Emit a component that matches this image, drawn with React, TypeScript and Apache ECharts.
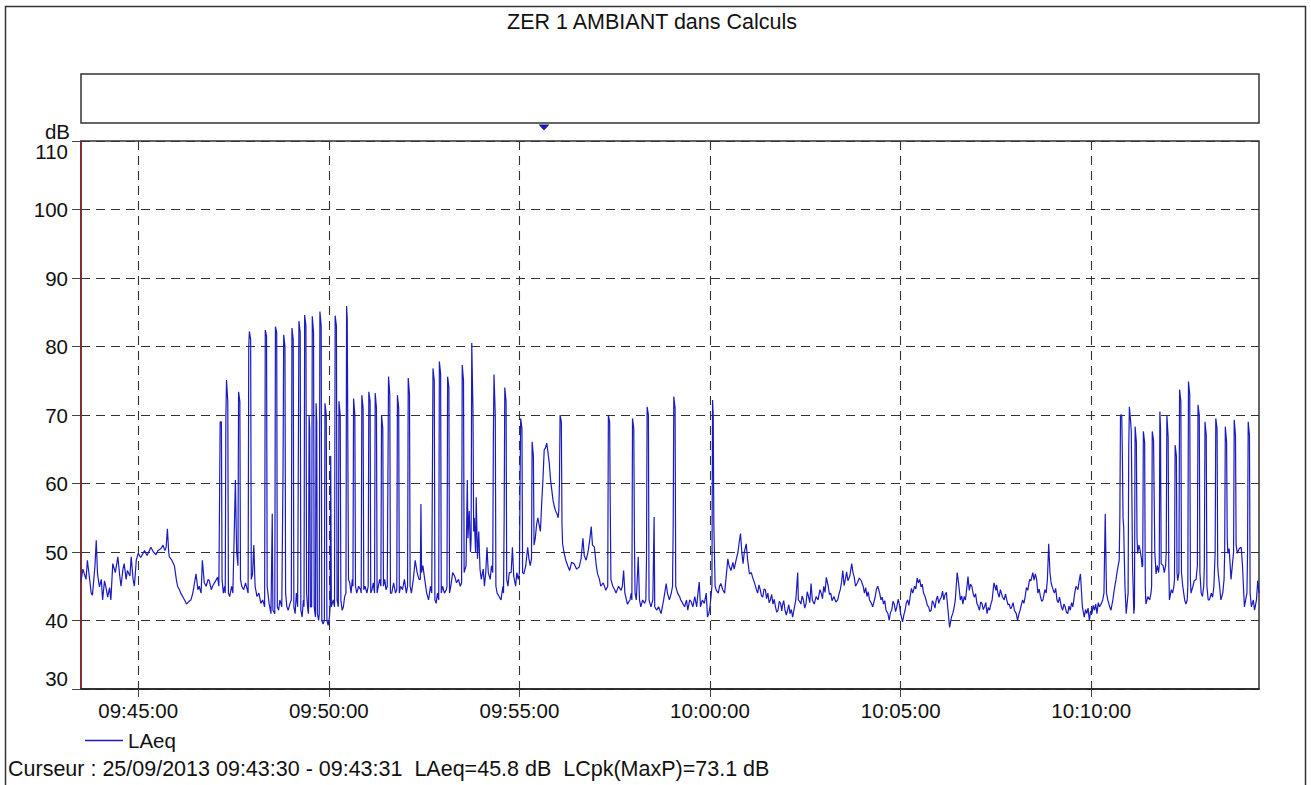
import React, { useEffect, useRef } from "react";
import * as echarts from "echarts";

// Time origin of the recording: 09:43:30 (seconds since midnight)
const START_SEC = 9 * 3600 + 43 * 60 + 30;
const END_OFFSET = 1854; // ~10:14:24
const tickOffsets = [90, 390, 690, 990, 1290, 1590]; // 09:45:00 ... 10:10:00
const yMin = 30;
const yMax = 110;
const yStep = 10;

const titleText = "ZER 1 AMBIANT dans Calculs";
const seriesName = "LAeq";
const cursorText =
  "Curseur : 25/09/2013 09:43:30 - 09:43:31  LAeq=45.8 dB  LCpk(MaxP)=73.1 dB";

// [seconds from 09:43:30, dB]
const laeqA = [
  [0, 45.8], [3, 47.5], [8, 46], [10, 48.8], [13, 46.5], [16, 44], [18, 43.7], [22, 48], [24, 51.7], [26, 46.8],
  [29, 44.9], [32, 46], [34, 43], [37, 45.8], [40, 44.5], [42, 43.4], [45, 44.8], [47, 43], [50, 48.3], [54, 47],
  [58, 49.3], [61, 46.5], [63, 45], [66, 47.5], [68, 48.3], [71, 46], [73, 47.3], [77, 46.5], [79, 49.3], [82, 46],
  [84, 45], [87, 48.8], [90, 49.8], [94, 49.2], [100, 50.2], [104, 49.5], [110, 50.7], [114, 50], [118, 49.6],
  [121, 50.2], [126, 50.5], [129, 51], [132, 50.2], [134, 50.7], [136, 53.4], [138, 50], [139, 49.3], [143, 48.8],
  [147, 48], [150, 46], [152, 45], [155, 44.5], [157, 44], [160, 43.5], [163, 43], [166, 42.4], [170, 42.8],
  [173, 43], [176, 44], [181, 46.8], [184, 44.5], [186, 45], [189, 44], [191, 48.8], [194, 45.5], [197, 45],
  [200, 46], [202, 45.8], [205, 44.5], [207, 45], [210, 45.5], [215, 46.3], [217, 45],
  [218, 45], [219, 69], [221, 69], [222, 46], [224, 44], [226, 45],
  [227, 44], [228, 69.5], [229, 75.1], [231, 72], [232, 44], [234, 43.5], [237, 45], [239, 44],
  [241, 52], [243, 60.5], [244, 55], [245, 50], [247, 48], [248, 73.4], [250, 72], [251, 46], [253, 45],
  [256, 44.5], [259, 45.5], [263, 44], [264, 80], [265, 82.2], [267, 81], [268, 46], [270, 46.8], [272, 51],
  [274, 45], [277, 43.5], [280, 44], [283, 42.5], [286, 43], [289, 42], [290, 82.4], [292, 81.5], [293, 45],
  [296, 42.5], [299, 41], [301, 55.6], [302, 41.5], [305, 41], [306, 82.9], [308, 82], [309, 42],
];

const laeqB = [
  [311, 41.5], [313, 43], [316, 42], [317, 42], [318, 62], [319, 81.7], [321, 80], [322, 44], [324, 42],
  [326, 41.5], [329, 42.5], [331, 43], [332, 82.7], [334, 81], [335, 42], [337, 41], [339, 44], [341, 42],
  [342, 42], [343, 83.7], [345, 82], [346, 41.5], [348, 40.5], [350, 43], [351, 42], [352, 84.6], [354, 83],
  [355, 44], [357, 41.5], [358, 41], [359, 70], [360, 68], [361, 42], [363, 42], [364, 84.4], [366, 82],
  [367, 42], [369, 40.5], [370, 71.7], [371, 69], [372, 41], [374, 40], [375, 41], [376, 85.1], [378, 83],
  [379, 40], [381, 39.5], [383, 40], [384, 71.7], [386, 70], [387, 40], [389, 39.3], [391, 40.5], [392, 42],
  [393, 64], [394, 42], [397, 43], [399, 42], [400, 84.5], [402, 83], [403, 43], [405, 42], [406, 72], [408, 70],
  [409, 43], [411, 41.5], [413, 42], [415, 43.5], [417, 44], [418, 85.9], [419, 84], [421, 46], [423, 45.5],
  [425, 44], [427, 46], [428, 45], [429, 72.4], [431, 70], [432, 45], [434, 44], [437, 45], [440, 44.5],
  [441, 44], [442, 72.9], [444, 71], [445, 44.5], [447, 45], [450, 44], [452, 45], [453, 73.4], [455, 72],
  [456, 44], [458, 44.5], [460, 45.5], [462, 44], [463, 73.2], [465, 71], [466, 44], [468, 45], [470, 46],
  [472, 45], [473, 70], [475, 68], [476, 45], [478, 46], [480, 44.5], [482, 45], [483, 45], [484, 75.6],
  [486, 73], [487, 44], [489, 44], [492, 45.5], [495, 44], [497, 44.5], [498, 72.9], [500, 71], [501, 44],
  [503, 45], [506, 44.5], [509, 46], [512, 44], [514, 45], [515, 75.4], [517, 73], [518, 45], [520, 44],
  [523, 46], [526, 48.8], [529, 47], [532, 46], [534, 46], [535, 57], [536, 47], [538, 48], [541, 46],
  [544, 44], [547, 43], [550, 45], [552, 44], [553, 44], [554, 76.8], [556, 75], [557, 43], [559, 42.5],
  [561, 44], [563, 43], [564, 77.8], [566, 76], [567, 44], [569, 45], [572, 44], [575, 44.5], [576, 45],
  [577, 75.6], [579, 74], [580, 44], [582, 45], [585, 47], [588, 46.5], [591, 45.5], [594, 46], [597, 45],
  [599, 45.5], [600, 77.3], [602, 75], [603, 47], [606, 48], [608, 60.5], [609, 52], [611, 56], [613, 50],
  [614, 52], [615, 80.5], [617, 70], [618, 53], [619, 55], [621, 50], [622, 58], [624, 49], [626, 53], [628, 47.5],
];

const laeqC = [
  [630, 46], [633, 47.5], [635, 45], [637, 47], [639, 50.7], [641, 47], [644, 46], [646, 48], [648, 47],
  [649, 66.6], [650, 75.9], [652, 70], [653, 45], [655, 44], [658, 43.5], [661, 43], [664, 45], [665, 44],
  [666, 55], [667, 74], [669, 72], [670, 46], [672, 45], [674, 47], [677, 47], [679, 50.7], [681, 46.5],
  [684, 45], [686, 47], [688, 46], [690, 47], [691, 60], [692, 69.5], [694, 68], [695, 47], [697, 46.8],
  [700, 48], [703, 50.7], [705, 49], [707, 48], [709, 49], [710, 66.1], [712, 64], [713, 51], [715, 52],
  [717, 54], [719, 55], [721, 54], [723, 53], [725, 57], [727, 60.5], [729, 64.9], [731, 65.2], [733, 65.9],
  [735, 64.5], [737, 63], [739, 60.5], [741, 59], [743, 57.5], [745, 56.6], [747, 56], [749, 55.6], [751, 55],
  [752, 56], [753, 60], [754, 70], [756, 69], [757, 54], [758, 51.2], [760, 50], [763, 48.8], [766, 48],
  [769, 47.3], [772, 48.5], [776, 48.3], [780, 47.5], [784, 47.8], [787, 49], [790, 52], [792, 49.5],
  [795, 48.8], [798, 50], [801, 52], [803, 53.7], [805, 51], [808, 50.7], [811, 48], [813, 46.8], [816, 46],
  [818, 45], [822, 45.5], [826, 44.4], [829, 45], [830, 70], [832, 69], [833, 56.6], [834, 46], [837, 45],
  [840, 44.5], [842, 44], [846, 45], [850, 44.4], [852, 45], [854, 47.3], [856, 44], [860, 42.4], [864, 43],
  [866, 44], [867, 43], [868, 69.5], [870, 68], [871, 52], [872, 44], [874, 43], [877, 49.3], [879, 43],
  [881, 42], [884, 43], [887, 42.5], [889, 43], [890, 49], [891, 71.2], [893, 70], [894, 43], [897, 42],
  [900, 43], [902, 55.1], [903, 42], [906, 41.5], [909, 42], [913, 41], [917, 43], [921, 45.4], [923, 44],
  [926, 43], [929, 44], [931, 45], [932, 53.7], [933, 72.7], [935, 71], [936, 45], [939, 44], [942, 43.5], [944, 43],
];

const laeqD = [
  [947, 42.5], [950, 42], [953, 43], [955, 41.5], [958, 43], [960, 42.8], [963, 42], [966, 43.5], [969, 42],
  [971, 44], [973, 45.6], [975, 42], [978, 43], [981, 42.5], [984, 44], [986, 40.5], [988, 41], [990, 42],
  [992, 44], [993, 45], [994, 72.2], [995, 70], [996, 54], [997, 54], [998, 45], [1000, 44.4], [1003, 44],
  [1005, 45], [1007, 45.4], [1010, 44.5], [1013, 44], [1015, 46], [1018, 49], [1020, 48], [1023, 47.3],
  [1026, 48.5], [1028, 47.5], [1031, 48.8], [1034, 50], [1036, 51.5], [1038, 52.7], [1040, 50], [1042, 48.3],
  [1044, 50], [1047, 51.2], [1049, 49], [1052, 46.8], [1055, 47], [1057, 46.3], [1060, 45.5], [1063, 44.5],
  [1065, 44], [1067, 45.2], [1069, 44.5], [1071, 43.6], [1073, 43.4], [1075, 44.6], [1077, 44.5], [1079, 43.2],
  [1081, 44], [1083, 42.6], [1085, 43], [1087, 43.8], [1089, 42.4], [1091, 43.1], [1093, 42], [1095, 41.2],
  [1097, 41.5], [1099, 42.8], [1101, 42.5], [1103, 41.4], [1104, 42.2], [1106, 42.9], [1108, 41.5], [1110, 40.8],
  [1112, 41.5], [1114, 42.3], [1116, 41], [1118, 41.6], [1120, 40.5], [1123, 42], [1125, 43], [1128, 47],
  [1129, 43], [1131, 42.8], [1133, 42.4], [1135, 43.6], [1137, 43], [1139, 41.8], [1141, 42.4], [1143, 44.2],
  [1145, 43.5], [1147, 42.6], [1149, 45.4], [1151, 43], [1154, 42.4], [1157, 43.5], [1160, 43], [1163, 44.5],
  [1165, 44], [1167, 43.2], [1169, 45], [1171, 44.1], [1173, 46.3], [1176, 45], [1178, 43.8], [1180, 44],
  [1182, 42.9], [1185, 43.5], [1188, 42.7], [1191, 43], [1193, 43.9], [1195, 44.5], [1197, 45.6], [1199, 47.3],
  [1201, 45.1], [1203, 46], [1205, 47.1], [1207, 45.8], [1210, 46.5], [1213, 48.3], [1215, 47], [1217, 46.3],
  [1219, 45], [1222, 45.5], [1225, 46.2], [1228, 45.8], [1231, 45], [1233, 44], [1235, 44.8], [1237, 43.5],
  [1239, 44.2], [1241, 43], [1244, 42.5], [1246, 42], [1248, 42.7], [1250, 43.5], [1252, 44.6], [1254, 45],
  [1257, 44], [1259, 43],
];

const laeqE = [
  [1261, 43.4], [1263, 42.4], [1265, 42.9], [1267, 41.5], [1270, 41], [1272, 40], [1274, 41.2], [1276, 41.5],
  [1278, 42.8], [1280, 42.4], [1282, 41.3], [1284, 42], [1286, 43.1], [1288, 42.4], [1290, 41], [1293, 39.8],
  [1295, 40.8], [1297, 41.5], [1299, 42.6], [1301, 43], [1303, 42.2], [1305, 43.5], [1307, 44.7], [1309, 44],
  [1312, 45], [1314, 44.6], [1316, 46.2], [1318, 45.5], [1320, 46], [1322, 44.9], [1324, 45.3], [1326, 44],
  [1328, 43.6], [1330, 43], [1332, 42.2], [1334, 42], [1336, 41.3], [1338, 41.5], [1340, 42.9], [1342, 42.5],
  [1344, 41.8], [1346, 43], [1348, 43.6], [1350, 42.5], [1352, 43.1], [1354, 43.4], [1356, 44.3], [1358, 43],
  [1360, 43.8], [1362, 44.1], [1364, 42], [1367, 39], [1370, 40.5], [1372, 41], [1374, 41.8], [1376, 43],
  [1379, 47], [1381, 45.6], [1384, 43], [1386, 43.6], [1388, 42.4], [1390, 43.5], [1392, 43], [1395, 45.5],
  [1396, 46.4], [1398, 44.4], [1400, 45.3], [1402, 45], [1404, 44], [1406, 43.4], [1408, 43.9], [1410, 42.5],
  [1412, 42.1], [1414, 41.5], [1416, 42.7], [1418, 42.5], [1420, 41.6], [1422, 42], [1424, 42.6], [1426, 41],
  [1428, 41.9], [1430, 41.5], [1432, 42.4], [1434, 43], [1436, 44.8], [1437, 45.5], [1440, 44.4], [1441, 45.2],
  [1443, 44], [1445, 43.4], [1447, 44.5], [1450, 43.5], [1453, 43], [1455, 43.9], [1457, 43], [1459, 42.3],
  [1461, 42.4], [1463, 41.7], [1465, 42], [1467, 42.6], [1469, 41.5], [1472, 41], [1474, 40], [1476, 40.9],
  [1478, 41.5], [1480, 42.3], [1482, 43], [1484, 42.5], [1486, 43.5], [1488, 44.8], [1490, 44.4], [1493, 46],
  [1495, 45.8], [1498, 47], [1500, 45.9], [1502, 46.8], [1504, 46], [1506, 44], [1508, 44.6], [1510, 43.5],
  [1512, 42.8], [1514, 43], [1517, 44.5], [1519, 44], [1521, 46], [1523, 51.2], [1525, 47], [1527, 45.4],
  [1530, 44.5], [1532, 44], [1534, 44.7], [1536, 43], [1538, 42.6], [1540, 43.4], [1543, 42], [1545, 41.5],
  [1547, 42.4], [1549, 42], [1551, 41.2], [1553, 41], [1555, 42.1], [1557, 41.5], [1559, 42.6], [1561, 42],
  [1564, 44], [1566, 45], [1569, 44.5], [1571, 45.8], [1573, 46.8],
];

const laeqF = [
  [1576, 42], [1579, 40.5], [1581, 41.6], [1583, 41], [1585, 41.8], [1587, 40], [1589, 41.4], [1591, 41],
  [1593, 42.2], [1595, 41.5], [1597, 42.4], [1599, 41], [1601, 42.6], [1603, 42], [1606, 42.5], [1608, 43],
  [1610, 44], [1612, 55.6], [1614, 44], [1616, 43], [1619, 42], [1621, 41.5], [1624, 43], [1626, 44.4],
  [1629, 46], [1631, 47.3], [1634, 48.8], [1635, 55], [1636, 70], [1638, 70],
  [1639, 63.9], [1640, 55], [1641, 53.7], [1643, 45], [1645, 41], [1647, 43], [1648, 44], [1649, 65],
  [1650, 71.2], [1652, 69], [1653, 67.6], [1655, 48], [1657, 41], [1658, 42], [1659, 68.3], [1661, 66],
  [1662, 52], [1663, 49.8], [1665, 51], [1667, 50.2], [1669, 49], [1670, 47.8], [1671, 48], [1672, 67.6],
  [1674, 66], [1675, 45], [1676, 42.4], [1679, 43.5], [1682, 43], [1684, 44], [1685, 45], [1686, 67.6],
  [1688, 66.3], [1690, 50], [1692, 46.8], [1694, 48], [1696, 47], [1697, 48], [1698, 70.5], [1699, 68],
  [1700, 48.3], [1703, 48], [1705, 47], [1707, 48], [1708, 50], [1709, 70], [1711, 66.8], [1712, 48],
  [1713, 43], [1716, 44.5], [1718, 44], [1720, 45], [1721, 46], [1722, 65.6], [1724, 64], [1725, 47],
  [1726, 45.8], [1728, 47], [1729, 73.7], [1731, 72], [1732, 47], [1734, 45], [1737, 43], [1739, 42.4],
  [1741, 43], [1742, 45], [1743, 74.9], [1745, 73], [1746, 46], [1747, 44], [1750, 45], [1752, 45.8],
  [1755, 46], [1757, 48], [1758, 71.5], [1760, 70], [1761, 47], [1763, 44], [1765, 43.5], [1767, 45],
  [1768, 48], [1769, 69], [1771, 67], [1772, 45], [1774, 43], [1776, 43], [1779, 44], [1781, 43.4],
  [1783, 45], [1785, 50], [1786, 69.5], [1788, 68], [1789, 48], [1790, 46.8], [1792, 45], [1794, 43],
  [1797, 44], [1799, 46], [1800, 50], [1801, 68.3], [1803, 66], [1804, 52], [1805, 49.8], [1807, 50.5],
  [1810, 46], [1812, 48], [1814, 50], [1815, 69.3], [1817, 67], [1818, 51], [1820, 49.8], [1823, 50.5],
  [1826, 50.7], [1828, 48], [1831, 42], [1833, 43], [1835, 44], [1836, 50], [1837, 69], [1839, 67],
  [1840, 44], [1842, 42], [1845, 43], [1847, 41.5], [1850, 43], [1852, 45.8], [1854, 44],
];

const FONT = "'Liberation Sans', Arial, sans-serif";
const LINE_BLUE = "#1a1ac0";

function pad(n: number) {
  return n < 10 ? "0" + n : String(n);
}
function clock(offset: number) {
  const t = START_SEC + Math.round(offset);
  const h = Math.floor(t / 3600);
  const m = Math.floor((t % 3600) / 60);
  const s = t % 60;
  return pad(h) + ":" + pad(m) + ":" + pad(s);
}

export default function App() {
  const ref = useRef<HTMLDivElement>(null);

  useEffect(() => {
    if (!ref.current) return;
    const chart = echarts.init(ref.current, undefined, { renderer: "svg" });
    const data = [...laeqA, ...laeqB, ...laeqC, ...laeqD, ...laeqE, ...laeqF];

    chart.setOption({
      animation: false,
      backgroundColor: "#ffffff",
      textStyle: { fontFamily: FONT },
      grid: {
        left: 81,
        top: 141,
        right: 52,
        bottom: 96,
        show: true,
        borderColor: "#333",
        borderWidth: 1.5,
        backgroundColor: "transparent",
      },
      xAxis: {
        type: "value",
        min: 0,
        max: END_OFFSET,
        axisLine: { show: true, lineStyle: { color: "#222", width: 1.5 } },
        axisTick: {
          show: true,
          customValues: tickOffsets,
          length: 8,
          lineStyle: { color: "#444" },
        },
        axisLabel: {
          customValues: tickOffsets,
          formatter: (v: number) => clock(v),
          fontSize: 20.5,
          color: "#111",
          margin: 11,
          fontFamily: FONT,
        },
        splitLine: {
          show: true,
          lineStyle: { type: [9, 6], color: "#333", width: 1.1 },
        },
      },
      yAxis: {
        type: "value",
        min: yMin,
        max: yMax,
        interval: yStep,
        axisLine: { show: true, lineStyle: { color: "#8b1c1c", width: 1.5 } },
        axisTick: { show: true, length: 9, lineStyle: { color: "#444" } },
        axisLabel: {
          fontSize: 20.5,
          color: "#111",
          margin: 13,
          fontFamily: FONT,
          verticalAlignMinLabel: "bottom",
          verticalAlignMaxLabel: "top",
        },
        splitLine: {
          show: true,
          lineStyle: { type: [9, 6], color: "#333", width: 1.1 },
        },
      },
      legend: {
        left: 80,
        top: 725,
        icon: "rect",
        itemWidth: 38,
        itemHeight: 1.5,
        textStyle: { fontSize: 20.5, color: "#111", fontFamily: FONT },
        data: [seriesName],
      },
      series: [
        {
          name: seriesName,
          type: "line",
          data,
          showSymbol: false,
          symbol: "none",
          lineStyle: { color: LINE_BLUE, width: 1.2 },
          itemStyle: { color: LINE_BLUE },
        },
      ],
      graphic: [
        {
          type: "polyline",
          shape: { points: [[5.5, 800], [5.5, 6.5], [1305.5, 6.5], [1305.5, 800]] },
          style: { stroke: "#333", lineWidth: 1.5, fill: null },
          silent: true,
        },
        {
          type: "rect",
          shape: { x: 81, y: 74, width: 1178, height: 49 },
          style: { fill: "none", stroke: "#333", lineWidth: 1.5 },
          silent: true,
        },
        {
          type: "polygon",
          shape: { points: [[538.5, 124.5], [549.5, 124.5], [544, 130.5]] },
          style: { fill: "#1a1ab0" },
          silent: true,
        },
        {
          type: "text",
          x: 652,
          y: 22,
          style: {
            text: titleText,
            fontSize: 21.5,
            fontFamily: FONT,
            fill: "#111",
            align: "center",
            verticalAlign: "middle",
          },
        },
        {
          type: "text",
          x: 70,
          y: 131,
          style: {
            text: "dB",
            fontSize: 20.5,
            fontFamily: FONT,
            fill: "#111",
            align: "right",
            verticalAlign: "middle",
          },
        },
        {
          type: "text",
          x: 8,
          y: 769,
          style: {
            text: cursorText,
            fontSize: 21.5,
            fontFamily: FONT,
            fill: "#111",
            align: "left",
            verticalAlign: "middle",
          },
        },
      ],
    });

    return () => chart.dispose();
  }, []);

  return (
    <div
      ref={ref}
      style={{ position: "fixed", left: 0, top: 0, width: 1311, height: 785 }}
    />
  );
}
